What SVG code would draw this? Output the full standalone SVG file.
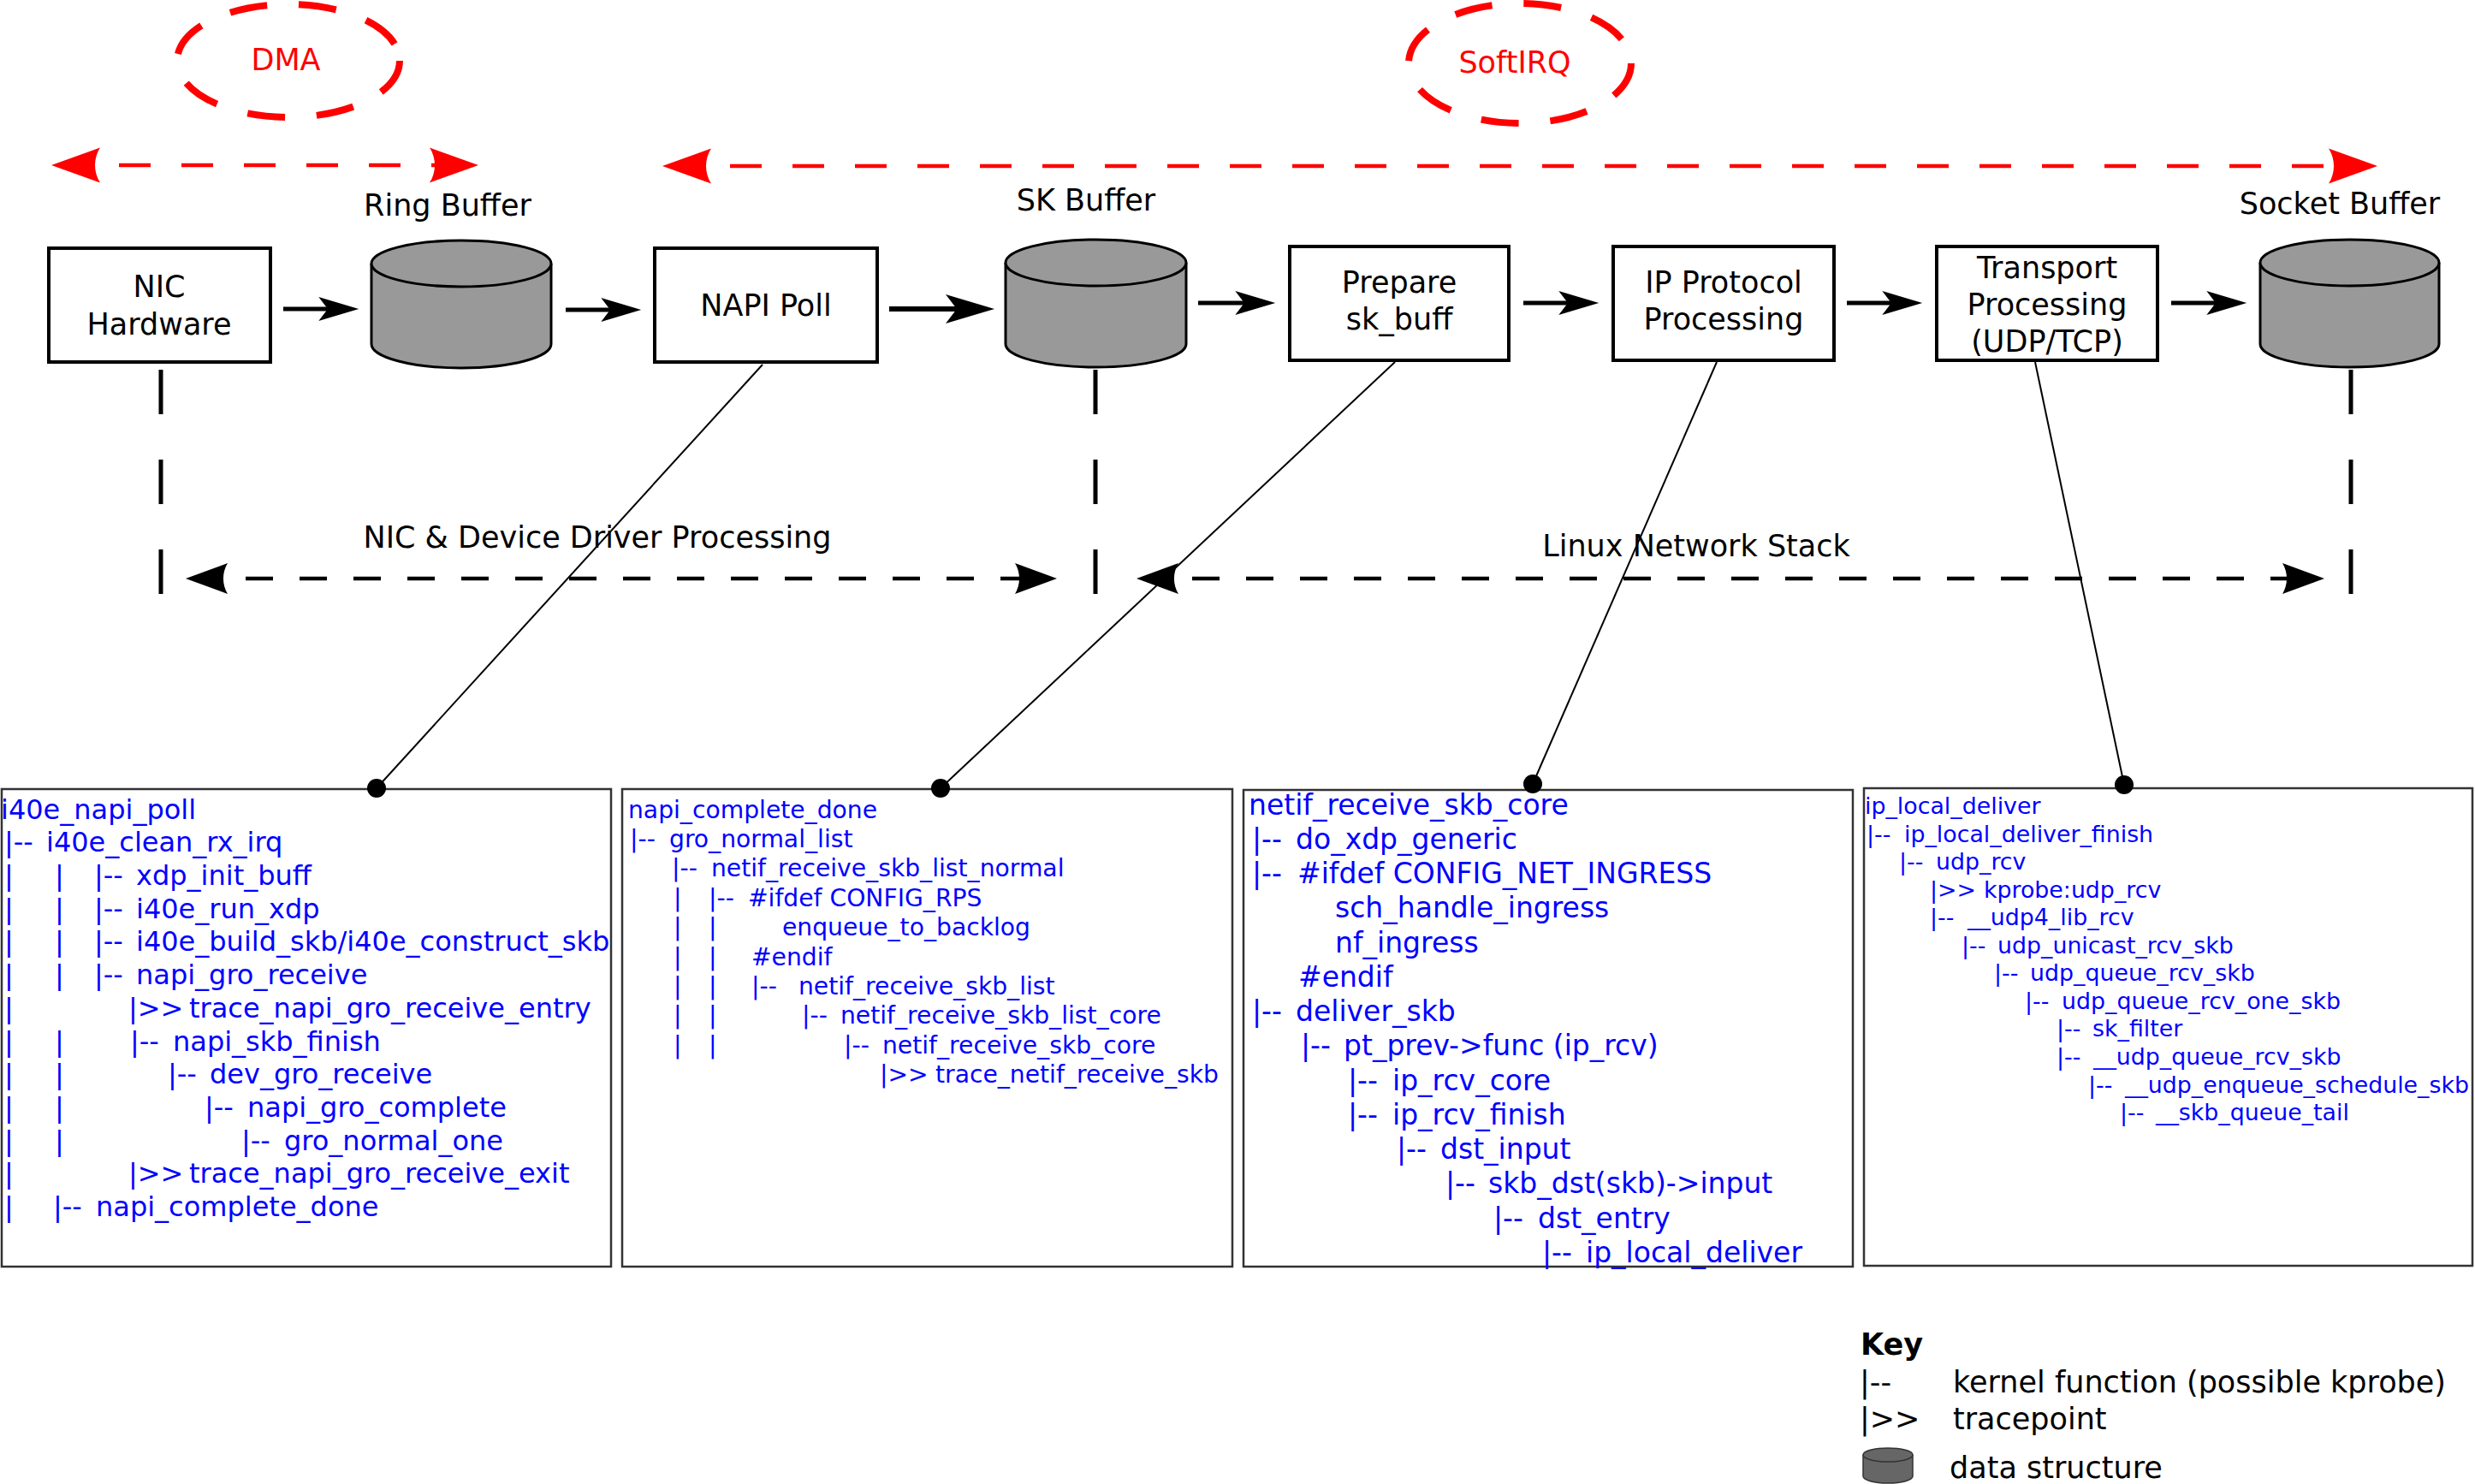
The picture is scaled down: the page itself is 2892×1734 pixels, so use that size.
<svg xmlns="http://www.w3.org/2000/svg" width="2892" height="1734" viewBox="0 0 2892 1734">
<style>
text{font-family:"DejaVu Sans","Verdana",sans-serif;}
.lbl{font-size:35px;fill:#000;text-anchor:middle;}
.red{font-size:35px;fill:#ff0000;text-anchor:middle;}
.box{fill:#fff;stroke:#000;stroke-width:4;}
.cyl{fill:#999;stroke:#000;stroke-width:3;}
.redring{fill:none;stroke:#ff0000;stroke-width:8;stroke-dasharray:44 37;}
.code{fill:#fff;stroke:#333;stroke-width:2.5;}
.c1{font-size:32px;fill:#0000ff;}
.c2{font-size:28.2px;fill:#0000ff;}
.c3{font-size:33px;fill:#0000ff;}
.c4{font-size:26.8px;fill:#0000ff;}
.flow{fill:none;stroke:#000;stroke-width:5.1;marker-end:url(#ah);}
.rdash{fill:none;stroke:#ff0000;stroke-width:4.5;stroke-dasharray:37 36;stroke-dashoffset:45;marker-start:url(#ra);marker-end:url(#ra);}
.bdash{fill:none;stroke:#000;stroke-width:4.5;stroke-dasharray:32 31;marker-start:url(#ba);marker-end:url(#ba);}
.vdash{fill:none;stroke:#000;stroke-width:5;stroke-dasharray:52 53;}
.call{fill:none;stroke:#000;stroke-width:2;}
.key{font-size:35px;fill:#000;}
</style>
<defs>
<marker id="ah" markerUnits="strokeWidth" refX="0" refY="0" markerWidth="10" markerHeight="6" orient="auto" overflow="visible">
<path d="M7.1,0 L-2.1,-2.74 L0,0 L-2.1,2.74 Z" fill="#000"/>
</marker>
<marker id="ra" markerUnits="userSpaceOnUse" refX="0" refY="0" markerWidth="60" markerHeight="44" orient="auto-start-reverse" overflow="visible">
<path d="M51,0 L-6,-20.5 C2,-8 2,8 -6,20.5 Z" fill="#ff0000"/>
</marker>
<marker id="ba" markerUnits="userSpaceOnUse" refX="0" refY="0" markerWidth="52" markerHeight="38" orient="auto-start-reverse" overflow="visible">
<path d="M44,0 L-5,-18 C1.7,-7 1.7,7 -5,18 Z" fill="#000"/>
</marker>
</defs>
<rect width="2892" height="1734" fill="#fff"/>

<g id="dma">
<ellipse class="redring" cx="337" cy="71" rx="130" ry="66"/>
<text class="red" x="334" y="82">DMA</text>
</g>
<g id="softirq">
<ellipse class="redring" cx="1776" cy="74" rx="130" ry="70"/>
<text class="red" x="1770" y="85">SoftIRQ</text>
</g>

<g id="nic-hardware">
<rect class="box" x="57" y="290" width="259" height="133"/>
<text class="lbl" x="186" y="347">NIC</text>
<text class="lbl" x="186" y="391">Hardware</text>
</g>
<g id="ring-buffer">
<path class="cyl" d="M434,308 A105,27 0 0 1 644,308 L644,402 A105,28 0 0 1 434,402 Z"/>
<path class="cyl" d="M434,308 A105,27 0 0 0 644,308" fill="none"/>
<text class="lbl" x="523" y="252">Ring Buffer</text>
</g>
<g id="napi-poll">
<rect class="box" x="765" y="290" width="260" height="133"/>
<text class="lbl" x="895" y="369">NAPI Poll</text>
</g>
<g id="sk-buffer">
<path class="cyl" d="M1175,307 A105.5,27 0 0 1 1386,307 L1386,402 A105.5,27 0 0 1 1175,402 Z"/>
<path class="cyl" d="M1175,307 A105.5,27 0 0 0 1386,307" fill="none"/>
<text class="lbl" x="1269" y="246">SK Buffer</text>
</g>
<g id="prepare-skbuff">
<rect class="box" x="1507" y="288" width="256" height="133"/>
<text class="lbl" x="1635" y="342">Prepare</text>
<text class="lbl" x="1635" y="385">sk_buff</text>
</g>
<g id="ip-protocol">
<rect class="box" x="1885" y="288" width="258" height="133"/>
<text class="lbl" x="2014" y="342">IP Protocol</text>
<text class="lbl" x="2014" y="385">Processing</text>
</g>
<g id="transport">
<rect class="box" x="2263" y="288" width="258" height="133"/>
<text class="lbl" x="2392" y="325">Transport</text>
<text class="lbl" x="2392" y="368">Processing</text>
<text class="lbl" x="2392" y="411">(UDP/TCP)</text>
</g>
<g id="socket-buffer">
<path class="cyl" d="M2641,307 A104.5,27 0 0 1 2850,307 L2850,402 A104.5,27 0 0 1 2641,402 Z"/>
<path class="cyl" d="M2641,307 A104.5,27 0 0 0 2850,307" fill="none"/>
<text class="lbl" x="2734" y="250">Socket Buffer</text>
</g>

<g id="region-labels">
<text class="lbl" x="698" y="640">NIC &amp; Device Driver Processing</text>
<text class="lbl" x="1982" y="650">Linux Network Stack</text>
</g>

<g id="connectors">
<path class="flow" d="M331,361 H383"/>
<path class="flow" d="M661,362 H713"/>
<path class="flow" style="stroke-width:6.2" d="M1039,361 H1118"/>
<path class="flow" d="M1400,354 H1454"/>
<path class="flow" d="M1780,354 H1832"/>
<path class="flow" d="M2158,354 H2210"/>
<path class="flow" d="M2537,354 H2589"/>
<path class="rdash" d="M111,193 H508"/>
<path class="rdash" d="M825,194 H2727"/>
<path class="bdash" style="stroke-dashoffset:37" d="M261,676 H1191"/>
<path class="bdash" style="stroke-dashoffset:42" d="M1372,676 H2672"/>
<path class="vdash" d="M188,432 V694"/>
<path class="vdash" d="M1280,432 V694"/>
<path class="vdash" d="M2747,432 V694"/>
<path class="call" d="M891,426 L440,921"/>
<path class="call" d="M1630,423 L1099,921"/>
<path class="call" d="M2006,423 L1791,916"/>
<path class="call" d="M2378,423 L2482,917"/>
</g>

<g id="code-i40e-napi-poll">
<rect class="code" x="2" y="922" width="712" height="558"/>
<text class="c1" y="956.6"><tspan x="1">i40e_napi_poll</tspan></text>
<text class="c1" y="995.3"><tspan x="5">|--</tspan><tspan x="54">i40e_clean_rx_irq</tspan></text>
<text class="c1" y="1034"><tspan x="5">|</tspan><tspan x="64">|</tspan><tspan x="110">|--</tspan><tspan x="159">xdp_init_buff</tspan></text>
<text class="c1" y="1072.7"><tspan x="5">|</tspan><tspan x="64">|</tspan><tspan x="110">|--</tspan><tspan x="159">i40e_run_xdp</tspan></text>
<text class="c1" y="1111.4"><tspan x="5">|</tspan><tspan x="64">|</tspan><tspan x="110">|--</tspan><tspan x="159">i40e_build_skb/i40e_construct_skb</tspan></text>
<text class="c1" y="1150.1"><tspan x="5">|</tspan><tspan x="64">|</tspan><tspan x="110">|--</tspan><tspan x="159">napi_gro_receive</tspan></text>
<text class="c1" y="1188.8"><tspan x="5">|</tspan><tspan x="150">|&gt;&gt;</tspan><tspan x="221">trace_napi_gro_receive_entry</tspan></text>
<text class="c1" y="1227.5"><tspan x="5">|</tspan><tspan x="64">|</tspan><tspan x="152">|--</tspan><tspan x="202">napi_skb_finish</tspan></text>
<text class="c1" y="1266.2"><tspan x="5">|</tspan><tspan x="64">|</tspan><tspan x="196">|--</tspan><tspan x="245">dev_gro_receive</tspan></text>
<text class="c1" y="1304.9"><tspan x="5">|</tspan><tspan x="64">|</tspan><tspan x="239">|--</tspan><tspan x="289">napi_gro_complete</tspan></text>
<text class="c1" y="1343.6"><tspan x="5">|</tspan><tspan x="64">|</tspan><tspan x="282">|--</tspan><tspan x="332">gro_normal_one</tspan></text>
<text class="c1" y="1382.3"><tspan x="5">|</tspan><tspan x="150">|&gt;&gt;</tspan><tspan x="221">trace_napi_gro_receive_exit</tspan></text>
<text class="c1" y="1421"><tspan x="5">|</tspan><tspan x="62">|--</tspan><tspan x="112">napi_complete_done</tspan></text>
</g>

<g id="code-napi-complete-done">
<rect class="code" x="727" y="922" width="713" height="558"/>
<text class="c2" y="955.5"><tspan x="734">napi_complete_done</tspan></text>
<text class="c2" y="989.9"><tspan x="736">|--</tspan><tspan x="782">gro_normal_list</tspan></text>
<text class="c2" y="1024.3"><tspan x="785">|--</tspan><tspan x="831">netif_receive_skb_list_normal</tspan></text>
<text class="c2" y="1058.7"><tspan x="787">|</tspan><tspan x="828">|--</tspan><tspan x="874">#ifdef CONFIG_RPS</tspan></text>
<text class="c2" y="1093.1"><tspan x="787">|</tspan><tspan x="828">|</tspan><tspan x="914">enqueue_to_backlog</tspan></text>
<text class="c2" y="1127.5"><tspan x="787">|</tspan><tspan x="828">|</tspan><tspan x="878">#endif</tspan></text>
<text class="c2" y="1161.9"><tspan x="787">|</tspan><tspan x="828">|</tspan><tspan x="878">|--</tspan><tspan x="933">netif_receive_skb_list</tspan></text>
<text class="c2" y="1196.3"><tspan x="787">|</tspan><tspan x="828">|</tspan><tspan x="937">|--</tspan><tspan x="982">netif_receive_skb_list_core</tspan></text>
<text class="c2" y="1230.7"><tspan x="787">|</tspan><tspan x="828">|</tspan><tspan x="986">|--</tspan><tspan x="1031">netif_receive_skb_core</tspan></text>
<text class="c2" y="1265.1"><tspan x="1028">|&gt;&gt;</tspan><tspan x="1093">trace_netif_receive_skb</tspan></text>
</g>

<g id="code-netif-receive-skb-core">
<rect class="code" x="1453" y="923" width="712" height="557"/>
<text class="c3" y="951.7"><tspan x="1459">netif_receive_skb_core</tspan></text>
<text class="c3" y="991.95"><tspan x="1463">|--</tspan><tspan x="1514">do_xdp_generic</tspan></text>
<text class="c3" y="1032.2"><tspan x="1463">|--</tspan><tspan x="1516">#ifdef CONFIG_NET_INGRESS</tspan></text>
<text class="c3" y="1072.45"><tspan x="1560">sch_handle_ingress</tspan></text>
<text class="c3" y="1112.7"><tspan x="1560">nf_ingress</tspan></text>
<text class="c3" y="1152.95"><tspan x="1517">#endif</tspan></text>
<text class="c3" y="1193.2"><tspan x="1463">|--</tspan><tspan x="1514">deliver_skb</tspan></text>
<text class="c3" y="1233.45"><tspan x="1520">|--</tspan><tspan x="1570">pt_prev-&gt;func (ip_rcv)</tspan></text>
<text class="c3" y="1273.7"><tspan x="1575">|--</tspan><tspan x="1627">ip_rcv_core</tspan></text>
<text class="c3" y="1313.95"><tspan x="1575">|--</tspan><tspan x="1627">ip_rcv_finish</tspan></text>
<text class="c3" y="1354.2"><tspan x="1632">|--</tspan><tspan x="1683">dst_input</tspan></text>
<text class="c3" y="1394.45"><tspan x="1689">|--</tspan><tspan x="1739">skb_dst(skb)-&gt;input</tspan></text>
<text class="c3" y="1434.7"><tspan x="1745">|--</tspan><tspan x="1797">dst_entry</tspan></text>
<text class="c3" y="1474.95"><tspan x="1802">|--</tspan><tspan x="1853">ip_local_deliver</tspan></text>
</g>

<g id="code-ip-local-deliver">
<rect class="code" x="2178" y="921" width="711" height="558"/>
<text class="c4" y="951"><tspan x="2179">ip_local_deliver</tspan></text>
<text class="c4" y="983.55"><tspan x="2181">|--</tspan><tspan x="2225">ip_local_deliver_finish</tspan></text>
<text class="c4" y="1016.1"><tspan x="2219">|--</tspan><tspan x="2262">udp_rcv</tspan></text>
<text class="c4" y="1048.65"><tspan x="2255">|&gt;&gt;</tspan><tspan x="2318">kprobe:udp_rcv</tspan></text>
<text class="c4" y="1081.2"><tspan x="2255">|--</tspan><tspan x="2299">__udp4_lib_rcv</tspan></text>
<text class="c4" y="1113.75"><tspan x="2292">|--</tspan><tspan x="2334">udp_unicast_rcv_skb</tspan></text>
<text class="c4" y="1146.3"><tspan x="2330">|--</tspan><tspan x="2372">udp_queue_rcv_skb</tspan></text>
<text class="c4" y="1178.85"><tspan x="2366">|--</tspan><tspan x="2409">udp_queue_rcv_one_skb</tspan></text>
<text class="c4" y="1211.4"><tspan x="2403">|--</tspan><tspan x="2445">sk_filter</tspan></text>
<text class="c4" y="1243.95"><tspan x="2403">|--</tspan><tspan x="2446">__udp_queue_rcv_skb</tspan></text>
<text class="c4" y="1276.5"><tspan x="2440">|--</tspan><tspan x="2483">__udp_enqueue_schedule_skb</tspan></text>
<text class="c4" y="1309.05"><tspan x="2477">|--</tspan><tspan x="2519">__skb_queue_tail</tspan></text>
</g>

<g id="connector-dots">
<circle cx="440" cy="921" r="11" fill="#000"/>
<circle cx="1099" cy="921" r="11" fill="#000"/>
<circle cx="1791" cy="916" r="11" fill="#000"/>
<circle cx="2482" cy="917" r="11" fill="#000"/>
</g>

<g id="key">
<text class="key" x="2174" y="1583" font-weight="bold">Key</text>
<text class="key" y="1627"><tspan x="2173">|--</tspan><tspan x="2282">kernel function (possible kprobe)</tspan></text>
<text class="key" y="1670"><tspan x="2173">|&gt;&gt;</tspan><tspan x="2282">tracepoint</tspan></text>
<path d="M2177,1700 A29,8 0 0 1 2235,1700 L2235,1725 A29,8 0 0 1 2177,1725 Z" fill="#666" stroke="#333" stroke-width="1.5"/>
<path d="M2177,1700 A29,8 0 0 0 2235,1700" fill="none" stroke="#333" stroke-width="1.5"/>
<text class="key" x="2278" y="1727">data structure</text>
</g>
</svg>
